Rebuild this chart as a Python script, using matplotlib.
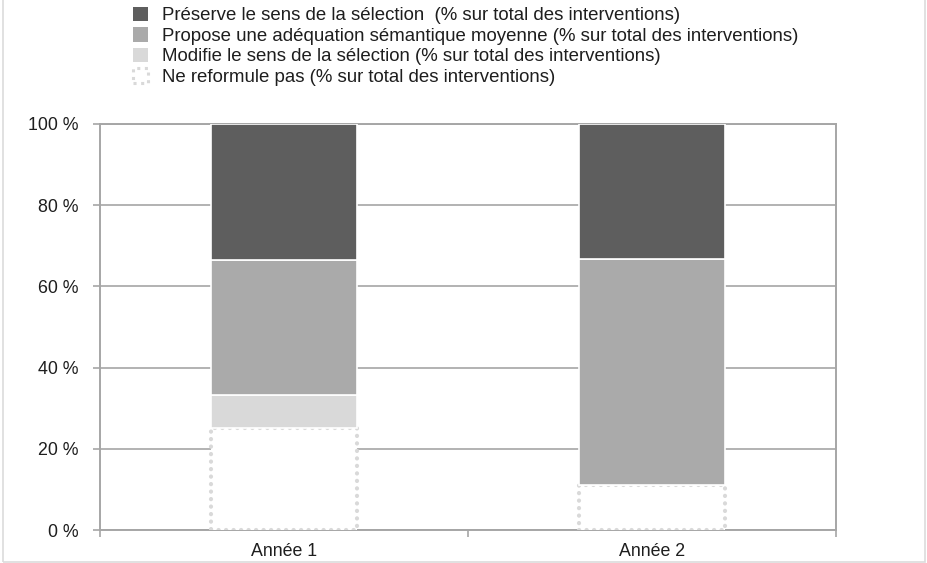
import numpy as np
import matplotlib
matplotlib.use("Agg")
import matplotlib.pyplot as plt
from matplotlib.patches import Patch, Rectangle

plt.rcParams["font.family"] = ["Liberation Sans", "DejaVu Sans"]

# data (percent of all interventions), stacked bottom -> top
years = ["Année 1", "Année 2"]
ne_reformule = [25.0, 11.1]
modifie = [8.3, 0.0]
propose = [33.3, 55.6]
preserve = [33.4, 33.3]

labels = [
    "Préserve le sens de la sélection  (% sur total des interventions)",
    "Propose une adéquation sémantique moyenne (% sur total des interventions)",
    "Modifie le sens de la sélection (% sur total des interventions)",
    "Ne reformule pas (% sur total des interventions)",
]
yticks = [0, 20, 40, 60, 80, 100]

C_DARK, C_MID, C_LIGHT, C_DOT = "#5e5e5e", "#aaaaaa", "#d9d9d9", "#d9d9d9"
GRID = "#a6a6a6"
TXT = "#1e1e1e"

fig = plt.figure(figsize=(9.28, 5.63), dpi=100)
fig.patches.append(Rectangle((0.003, 0.002), 0.994, 1.2, transform=fig.transFigure,
                             fill=False, edgecolor="#dcdcdc", linewidth=1.2))
ax = fig.add_axes([0.1078, 0.0586, 0.7931, 0.7212])

x = np.arange(len(years))
w = 0.395
bottom = np.zeros(len(years))

# dotted "no reformulation" segment
bars = ax.bar(x, ne_reformule, w, bottom=bottom, facecolor="white", edgecolor=C_DOT,
              linewidth=3.0, linestyle=(0, (0.05, 1.75)), zorder=3)
for b in bars:
    b.set_capstyle("round")
    b.set_joinstyle("round")
bottom += ne_reformule

for vals, col in [(modifie, C_LIGHT), (propose, C_MID), (preserve, C_DARK)]:
    ax.bar(x, vals, w, bottom=bottom, color=col, edgecolor="white", linewidth=1.2, zorder=3)
    bottom += np.array(vals)

ax.set_xlim(-0.5, len(years) - 0.5)
ax.set_ylim(0, 100)
ax.set_yticks(yticks)
ax.set_yticklabels([f"{v} %" for v in yticks])
ax.set_xticks(x)
ax.set_xticklabels(years)
ax.set_xticks(np.arange(-0.5, len(years), 1.0), minor=True)
ax.tick_params(axis="x", which="major", length=0, pad=9, labelsize=12.8, colors=TXT)
ax.tick_params(axis="x", which="minor", length=5, color=GRID, width=1.2)
ax.tick_params(axis="y", length=5, color=GRID, width=1.2, pad=10.5, labelsize=12.8,
               labelcolor=TXT)
ax.yaxis.grid(True, color=GRID, linewidth=1.2, zorder=0)
ax.set_axisbelow(True)
for s in ax.spines.values():
    s.set_color(GRID)
    s.set_linewidth(1.4)

handles = [
    Patch(facecolor=C_DARK, edgecolor="none"),
    Patch(facecolor=C_MID, edgecolor="none"),
    Patch(facecolor=C_LIGHT, edgecolor="none"),
    Patch(facecolor="white", edgecolor=C_DOT, linestyle=(0, (1, 1.5)), linewidth=2.2),
]
fig.legend(handles, labels, loc="upper left", bbox_to_anchor=(0.1435, 0.988),
           frameon=False, fontsize=13.45, labelcolor=TXT, handlelength=0.8,
           handleheight=0.8, handletextpad=0.76, labelspacing=0.155, borderaxespad=0,
           borderpad=0)

fig.savefig("out.png", dpi=100, facecolor="white")
